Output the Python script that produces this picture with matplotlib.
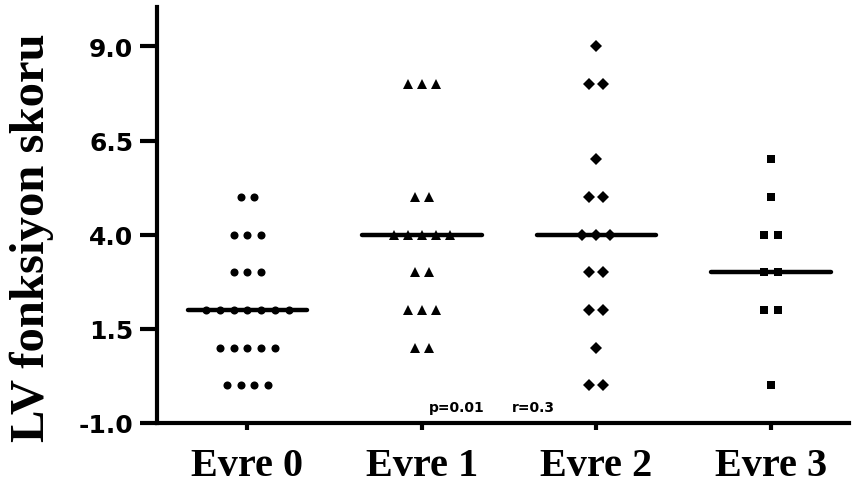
import numpy as np
import matplotlib
matplotlib.use("Agg")
import matplotlib.pyplot as plt

# LV fonksiyon skoru by evre
groups = ["Evre 0", "Evre 1", "Evre 2", "Evre 3"]
evre0 = [0, 0, 0, 0, 1, 1, 1, 1, 1, 2, 2, 2, 2, 2, 2, 2, 3, 3, 3, 4, 4, 4, 5, 5]
evre1 = [1, 1, 2, 2, 2, 3, 3, 4, 4, 4, 4, 4, 5, 5, 8, 8, 8]
evre2 = [0, 0, 1, 2, 2, 3, 3, 4, 4, 4, 5, 5, 6, 8, 8, 9]
evre3 = [0, 2, 2, 3, 3, 4, 4, 5, 6]
yticks = [-1.0, 1.5, 4.0, 6.5, 9.0]
p_text = "p=0.01"
r_text = "r=0.3"

series = [evre0, evre1, evre2, evre3]
markers = ["o", "^", "D", "s"]
msizes = [5.8, 7.5, 5.8, 5.4]

fig = plt.figure(figsize=(8.52, 4.89), dpi=100)
ax = fig.add_axes([0.184, 0.133, 0.813, 0.851])

step = 0.08
for i, vals in enumerate(series):
    vals = np.array(vals)
    for v in np.unique(vals):
        n = np.sum(vals == v)
        xs = i + (np.arange(n) - (n - 1) / 2) * step
        ax.plot(xs, [v] * n, linestyle="none", marker=markers[i],
                markersize=msizes[i], color="black", markeredgewidth=0)
    med = np.median(vals)
    ax.plot([i - 0.343, i + 0.343], [med, med], color="black", lw=3.2,
            solid_capstyle="round")

ax.text(1.04, -0.69, p_text, fontsize=10, fontweight="bold", family="DejaVu Sans")
ax.text(1.515, -0.69, r_text, fontsize=10, fontweight="bold", family="DejaVu Sans")

ax.set_xlim(-0.52, 3.45)
ax.set_ylim(-1.0, 10.05)
ax.set_yticks(yticks)
ax.set_yticklabels(["%.1f" % t for t in yticks], fontsize=18, fontweight="bold",
                   family="DejaVu Sans")
ax.set_xticks(range(len(groups)))
ax.set_xticklabels(groups, fontsize=29, fontweight="bold", family="Liberation Serif")

for s in ["top", "right"]:
    ax.spines[s].set_visible(False)
for s in ["left", "bottom"]:
    ax.spines[s].set_linewidth(3)
ax.tick_params(axis="y", length=12, width=3, pad=5)
ax.tick_params(axis="x", length=5, width=3, pad=12.5)

ax.set_ylabel("LV fonksiyon skoru", fontsize=35, fontweight="bold",
              family="Liberation Serif")
ax.yaxis.set_label_coords(-0.149, 0.447)

fig.savefig("out.png", dpi=100)
